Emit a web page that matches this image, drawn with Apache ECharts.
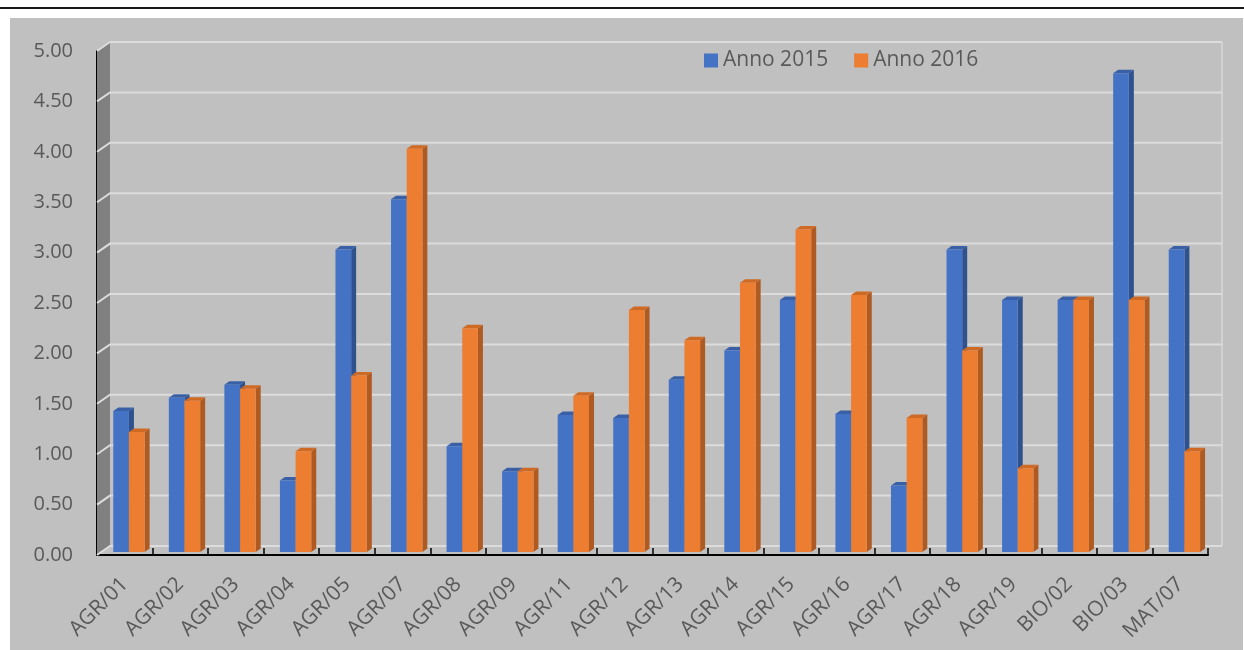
<!DOCTYPE html>
<html>
<head>
<meta charset="utf-8">
<script src="https://cdn.jsdelivr.net/npm/echarts@6/dist/echarts.min.js"></script>
<style>
  html, body { margin: 0; padding: 0; background: #ffffff; }
  #wrap { position: relative; width: 1244px; height: 650px; overflow: hidden; background: #ffffff; }
  #topline { position: absolute; left: 0; top: 7px; width: 1244px; height: 2px; background: #1a1a1a; }
  #bg { position: absolute; left: 10px; top: 18px; width: 1233px; height: 632px; background: #c0c0c0; }
  #chart { position: absolute; left: 0; top: 0; width: 1244px; height: 650px; }
</style>
</head>
<body>
<div id="wrap">
  <div id="topline"></div>
  <div id="bg"></div>
  <div id="chart"></div>
</div>
<script>
const categories = ['AGR/01','AGR/02','AGR/03','AGR/04','AGR/05','AGR/07','AGR/08','AGR/09','AGR/11','AGR/12','AGR/13','AGR/14','AGR/15','AGR/16','AGR/17','AGR/18','AGR/19','BIO/02','BIO/03','MAT/07'];
const anno2015 = [1.40,1.53,1.66,0.71,3.00,3.50,1.05,0.80,1.36,1.33,1.71,2.00,2.50,1.37,0.66,3.00,2.50,2.50,4.75,3.00];
const anno2016 = [1.19,1.50,1.62,1.00,1.75,4.00,2.22,0.80,1.55,2.40,2.10,2.67,3.20,2.55,1.33,2.00,0.83,2.50,2.50,1.00];
const yTickValues = [0,0.5,1,1.5,2,2.5,3,3.5,4,4.5,5];
const seriesNames = ['Anno 2015','Anno 2016'];

const FONT = "'Open Sans', 'Noto Sans', sans-serif";
const TEXT = '#595959';
const WALL_DX = 13, WALL_DY = 9;
const BAR_DX = 5, BAR_DY = 3.5, BAR_LIFT = 3;

const palette = [
  { front: '#4472c4', side: '#2f528f', top: '#3960a6' },
  { front: '#ed7d31', side: '#ae5a21', top: '#cf6a24' }
];

function makeBarRenderer(k) {
  return function (params, api) {
    const i = api.value(0);
    const v = api.value(1);
    const band = api.size([1, 0])[0];
    const c = api.coord([i, 0])[0];
    const w = band * 0.282;
    const xl = c - band * 0.207 + k * w;
    const xr = xl + w;
    const yb = api.coord([i, 0])[1] - BAR_LIFT;
    const yt = api.coord([i, v])[1] - BAR_LIFT;
    const col = palette[k];
    return {
      type: 'group',
      children: [
        { type: 'polygon', shape: { points: [[xr, yt], [xr + BAR_DX, yt - BAR_DY], [xr + BAR_DX, yb - BAR_DY], [xr, yb]] }, style: { fill: col.side } },
        { type: 'polygon', shape: { points: [[xl, yt], [xl + BAR_DX, yt - BAR_DY], [xr + BAR_DX, yt - BAR_DY], [xr, yt]] }, style: { fill: col.top } },
        { type: 'rect', shape: { x: xl, y: yt, width: w, height: yb - yt }, style: { fill: col.front } }
      ]
    };
  };
}

function renderWalls(params, api) {
  const cs = params.coordSys;
  const x0 = cs.x, x1 = cs.x + cs.width;
  const yMax = yTickValues[yTickValues.length - 1];
  const yTop = api.coord([0, yMax])[1];
  const yBot = api.coord([0, 0])[1];
  const children = [];
  children.push({ type: 'polygon', shape: { points: [[x0, yTop], [x0 + WALL_DX, yTop - WALL_DY], [x0 + WALL_DX, yBot - WALL_DY], [x0, yBot]] }, style: { fill: '#808080' } });
  children.push({ type: 'line', shape: { x1: x1 + WALL_DX + 1, y1: yTop - WALL_DY, x2: x1 + WALL_DX + 1, y2: yBot - WALL_DY }, style: { stroke: '#d2d2d2', lineWidth: 2 } });
  yTickValues.forEach(function (v) {
    const y = api.coord([0, v])[1];
    children.push({ type: 'polyline', shape: { points: [[x0, y], [x0 + WALL_DX, y - WALL_DY], [x1 + WALL_DX + 1, y - WALL_DY]] }, style: { stroke: '#dcdcdc', lineWidth: 2, fill: null } });
  });
  return { type: 'group', children: children };
}

const chart = echarts.init(document.getElementById('chart'), null, { renderer: 'canvas' });
chart.setOption({
  backgroundColor: 'transparent',
  animation: false,
  textStyle: { fontFamily: FONT },
  legend: {
    data: seriesNames,
    left: 704, top: 50, padding: 0,
    itemWidth: 14, itemHeight: 14, itemGap: 26,
    icon: 'rect',
    textStyle: { fontSize: 21, color: TEXT, fontFamily: FONT }
  },
  grid: { left: 97, right: 36, top: 51, bottom: 95, containLabel: false },
  xAxis: {
    type: 'category',
    data: categories,
    boundaryGap: true,
    axisLine: { show: true, lineStyle: { color: '#000000', width: 2 } },
    axisTick: { show: true, inside: true, length: 7, lineStyle: { color: '#000000', width: 1.5 } },
    axisLabel: { interval: 0, rotate: 45, fontSize: 21, color: TEXT, margin: 26, fontFamily: FONT },
    splitLine: { show: false }
  },
  yAxis: {
    type: 'value',
    min: 0, max: 5, interval: 0.5,
    axisLine: { show: true, lineStyle: { color: '#000000', width: 2 } },
    axisTick: { show: true, inside: true, length: 5, lineStyle: { color: '#000000', width: 1.5 } },
    minorTick: { show: true, splitNumber: 5, length: 5, lineStyle: { color: '#000000', width: 1.5 } },
    axisLabel: { fontSize: 20, color: TEXT, margin: 24, fontFamily: FONT, formatter: function (v) { return v.toFixed(2); } },
    splitLine: { show: false }
  },
  series: [
    { type: 'custom', name: '__walls', renderItem: renderWalls, data: [[0, 0]], z: 1, silent: true, legendHoverLink: false },
    { type: 'custom', name: seriesNames[0], renderItem: makeBarRenderer(0), data: anno2015.map(function (v, i) { return [i, v]; }), encode: { x: 0, y: 1 }, itemStyle: { color: palette[0].front }, z: 2 },
    { type: 'custom', name: seriesNames[1], renderItem: makeBarRenderer(1), data: anno2016.map(function (v, i) { return [i, v]; }), encode: { x: 0, y: 1 }, itemStyle: { color: palette[1].front }, z: 3 }
  ]
});
</script>
</body>
</html>
